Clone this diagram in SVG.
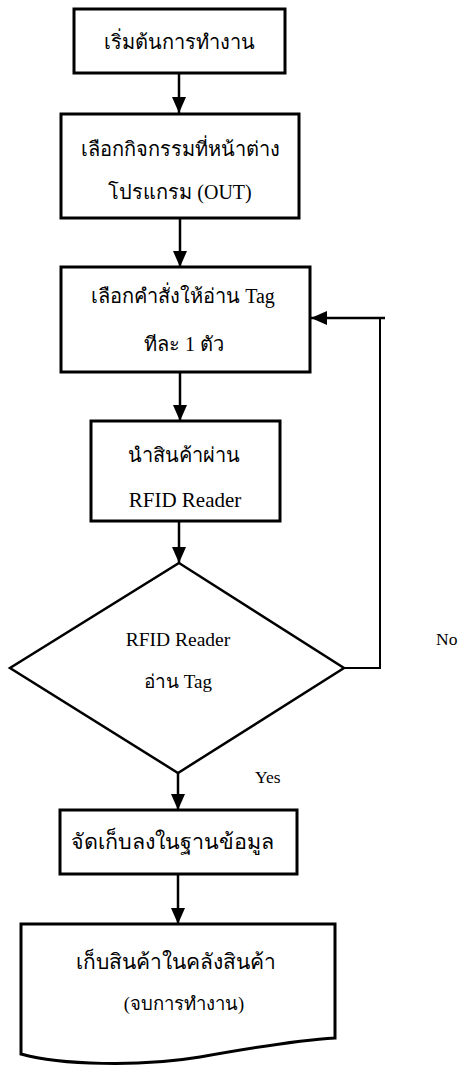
<svg xmlns="http://www.w3.org/2000/svg" width="467" height="1065" viewBox="0 0 467 1065">
<defs>
<style>
.box{fill:#fff;stroke:#000;stroke-width:3}
.dia{fill:#fff;stroke:#000;stroke-width:2.5}
.t{font-family:"Liberation Serif","DejaVu Sans",serif;font-size:20px;fill:#000;text-anchor:middle}
.s{font-family:"Liberation Serif","DejaVu Sans",serif;font-size:17.5px;fill:#000}
.c{fill:none;stroke:#000;stroke-width:2.5}
.fb{fill:none;stroke:#000;stroke-width:2}
</style>
<marker id="ah" markerUnits="userSpaceOnUse" markerWidth="16" markerHeight="14" refX="16" refY="7" orient="auto">
<path d="M0,0 L16,7 L0,14 z" fill="#000"/>
</marker>
</defs>
<rect width="467" height="1065" fill="#fff"/>
<g id="connectors">
<line class="c" x1="179" y1="73" x2="179" y2="113" marker-end="url(#ah)"/>
<line class="c" x1="180" y1="218" x2="180" y2="267" marker-end="url(#ah)"/>
<line class="c" x1="180" y1="372" x2="180" y2="421" marker-end="url(#ah)"/>
<line class="c" x1="179" y1="521" x2="179" y2="563" marker-end="url(#ah)"/>
<line class="c" x1="178" y1="773" x2="178" y2="810" marker-end="url(#ah)"/>
<line class="c" x1="178" y1="874" x2="178" y2="924" marker-end="url(#ah)"/>
<polyline class="fb" points="344,668 380,668 380,318"/>
<line class="c" x1="385" y1="318" x2="311" y2="318" marker-end="url(#ah)"/>
<text class="s" x="255" y="783">Yes</text>
<text class="s" x="436" y="645">No</text>
</g>
<g id="start">
<rect class="box" x="74" y="9" width="211" height="64"/>
<text class="t" x="179" y="49">เริ่มต้นการทำงาน</text>
</g>
<g id="select-activity">
<rect class="box" x="61" y="114" width="238" height="104"/>
<text class="t" x="180" y="156">เลือกกิจกรรมที่หน้าต่าง</text>
<text class="t" x="180" y="199">โปรแกรม (OUT)</text>
</g>
<g id="select-command">
<rect class="box" x="61" y="267" width="249" height="105"/>
<text class="t" x="183" y="303">เลือกคำสั่งให้อ่าน Tag</text>
<text class="t" x="184" y="351">ทีละ 1 ตัว</text>
</g>
<g id="pass-reader">
<rect class="box" x="91" y="421" width="189" height="100"/>
<text class="t" x="184" y="462">นำสินค้าผ่าน</text>
<text class="t" x="185" y="507" style="font-size:21px">RFID Reader</text>
</g>
<g id="decision">
<polygon class="dia" points="179,563 344,668 178,773 10,668"/>
<text class="t" x="178" y="646" style="font-size:19.5px">RFID Reader</text>
<text class="t" x="178" y="688" style="font-size:19px">อ่าน Tag</text>
</g>
<g id="store-db">
<rect class="box" x="60" y="810" width="237" height="64"/>
<text class="t" x="172" y="849" style="font-size:21.5px">จัดเก็บลงในฐานข้อมูล</text>
</g>
<g id="end">
<path class="box" d="M21,924 H335 V1038 C300,1040 250,1048 200,1057 C140,1067 60,1065 21,1054 Z"/>
<text class="t" x="176" y="969" style="font-size:21px">เก็บสินค้าในคลังสินค้า</text>
<text class="t" x="184" y="1010" style="font-size:18.5px">(จบการทำงาน)</text>
</g>
</svg>
